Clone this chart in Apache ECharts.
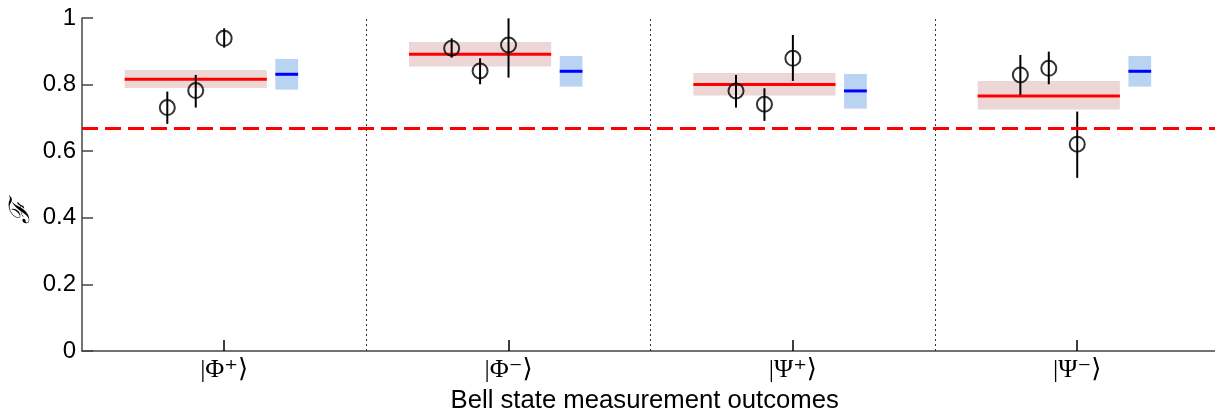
<!DOCTYPE html>
<html>
<head>
<meta charset="utf-8">
<script src="https://cdn.jsdelivr.net/npm/echarts@6/dist/echarts.min.js"></script>
<style>html,body{margin:0;padding:0;background:#fff}#c{width:1215px;height:410px}</style>
</head>
<body>
<div id="c"></div>
<script>
var categories = ['|Φ\u207A\u27E9', '|Φ\u207B\u27E9', '|Ψ\u207A\u27E9', '|Ψ\u207B\u27E9'];
var yTicks = [0, 0.2, 0.4, 0.6, 0.8, 1];
var pointOffsets = [-0.2, -0.1, 0];
var measured = [[0.731, 0.782, 0.939], [0.909, 0.841, 0.919], [0.781, 0.741, 0.879], [0.829, 0.849, 0.621]];
var errLow = [[0.682, 0.731, 0.911], [0.881, 0.801, 0.821], [0.731, 0.691, 0.811], [0.769, 0.801, 0.520]];
var errHigh = [[0.779, 0.829, 0.969], [0.939, 0.879, 0.999], [0.829, 0.789, 0.949], [0.889, 0.899, 0.719]];
var meanVal = [0.816, 0.891, 0.800, 0.766];
var meanLow = [0.790, 0.854, 0.767, 0.725];
var meanHigh = [0.844, 0.928, 0.835, 0.811];
var predVal = [0.831, 0.840, 0.781, 0.840];
var predLow = [0.785, 0.794, 0.728, 0.794];
var predHigh = [0.877, 0.886, 0.832, 0.886];
var classicalLimit = 0.667;
var meanSpan = [-0.35, 0.15];
var predSpan = [0.18, 0.26];

var scatterData = [], errData = [], meanData = [], predData = [];
for (var g = 0; g < categories.length; g++) {
  for (var k = 0; k < pointOffsets.length; k++) {
    scatterData.push([g + pointOffsets[k], measured[g][k]]);
    errData.push([g + pointOffsets[k], errLow[g][k], errHigh[g][k]]);
  }
  meanData.push([g + meanSpan[0], g + meanSpan[1], meanLow[g], meanHigh[g], meanVal[g]]);
  predData.push([g + predSpan[0], g + predSpan[1], predLow[g], predHigh[g], predVal[g]]);
}

function bandRender(fill, lineColor) {
  return function (params, api) {
    var p0 = api.coord([api.value(0), api.value(3)]);
    var p1 = api.coord([api.value(1), api.value(2)]);
    var m0 = api.coord([api.value(0), api.value(4)]);
    var m1 = api.coord([api.value(1), api.value(4)]);
    return {
      type: 'group',
      children: [
        { type: 'rect', shape: { x: p0[0], y: p0[1], width: p1[0] - p0[0], height: p1[1] - p0[1] }, style: { fill: fill } },
        { type: 'line', shape: { x1: m0[0], y1: m0[1], x2: m1[0], y2: m1[1] }, style: { stroke: lineColor, lineWidth: 3 } }
      ]
    };
  };
}

var chart = echarts.init(document.getElementById('c'));
chart.setOption({
  animation: false,
  graphic: [{
    type: 'text', x: 22, y: 212, rotation: Math.PI / 2, silent: true,
    style: { text: '\u2131', font: 'italic 28px "DejaVu Serif", serif', fill: '#000', align: 'center', verticalAlign: 'middle' }
  }],
  grid: { left: 82, top: 18, width: 1137.4, height: 333, containLabel: false, outerBoundsMode: 'none' },
  xAxis: {
    type: 'value', min: -0.5, max: 3.5,
    name: 'Bell state measurement outcomes', nameLocation: 'middle', nameGap: 36,
    nameTextStyle: { fontFamily: 'Liberation Sans, Arial, sans-serif', fontSize: 25.7, color: '#000', padding: [0, 12, 0, 0] },
    axisLine: { show: true, onZero: false, lineStyle: { color: '#444', width: 1.5 } },
    axisTick: { show: true, inside: true, length: 11, customValues: [0, 1, 2, 3], lineStyle: { color: '#000', width: 1.5 } },
    axisLabel: {
      customValues: [0, 1, 2, 3], margin: 6,
      fontFamily: 'Liberation Serif, DejaVu Serif, serif', fontSize: 26, color: '#000',
      formatter: function (v) { return categories[Math.round(v)]; }
    },
    splitLine: { show: false }
  },
  yAxis: {
    type: 'value', min: 0, max: 1, interval: 0.2,
    axisLine: { show: true, onZero: false, lineStyle: { color: '#444', width: 1.5 } },
    axisTick: { show: true, inside: true, length: 11, lineStyle: { color: '#444', width: 1.5 } },
    axisLabel: {
      margin: 6, fontFamily: 'Liberation Sans, Arial, sans-serif', fontSize: 24, color: '#000',
      formatter: function (v) { return String(Math.round(v * 10) / 10); }
    },
    splitLine: { show: false }
  },
  series: [
    {
      type: 'custom', name: 'mean', renderItem: bandRender('#ecd6d6', '#ff0000'),
      data: meanData, encode: { x: [0, 1], y: [2, 3] }, z: 2, silent: true,
      markLine: {
        silent: true, symbol: 'none', label: { show: false },
        data: [
          { xAxis: 0.5, lineStyle: { color: '#333', width: 1, type: [2, 3] } },
          { xAxis: 1.5, lineStyle: { color: '#333', width: 1, type: [2, 3] } },
          { xAxis: 2.5, lineStyle: { color: '#333', width: 1, type: [2, 3] } },
          { yAxis: classicalLimit, lineStyle: { color: '#ff0000', width: 3, type: [16, 7] } }
        ]
      }
    },
    {
      type: 'custom', name: 'pred', renderItem: bandRender('#b9d4f2', '#0000ff'),
      data: predData, encode: { x: [0, 1], y: [2, 3] }, z: 2, silent: true
    },
    {
      type: 'custom', name: 'err',
      renderItem: function (params, api) {
        var a = api.coord([api.value(0), api.value(1)]);
        var b = api.coord([api.value(0), api.value(2)]);
        return { type: 'line', shape: { x1: a[0], y1: a[1], x2: b[0], y2: b[1] }, style: { stroke: '#000', lineWidth: 2 } };
      },
      data: errData, encode: { x: 0, y: [1, 2] }, z: 3, silent: true
    },
    {
      type: 'scatter', name: 'measured', data: scatterData, symbol: 'circle', symbolSize: 15,
      itemStyle: { color: 'rgba(0,0,0,0)', borderColor: '#000', borderWidth: 2 }, z: 4, silent: true
    }
  ]
});
</script>
</body>
</html>
